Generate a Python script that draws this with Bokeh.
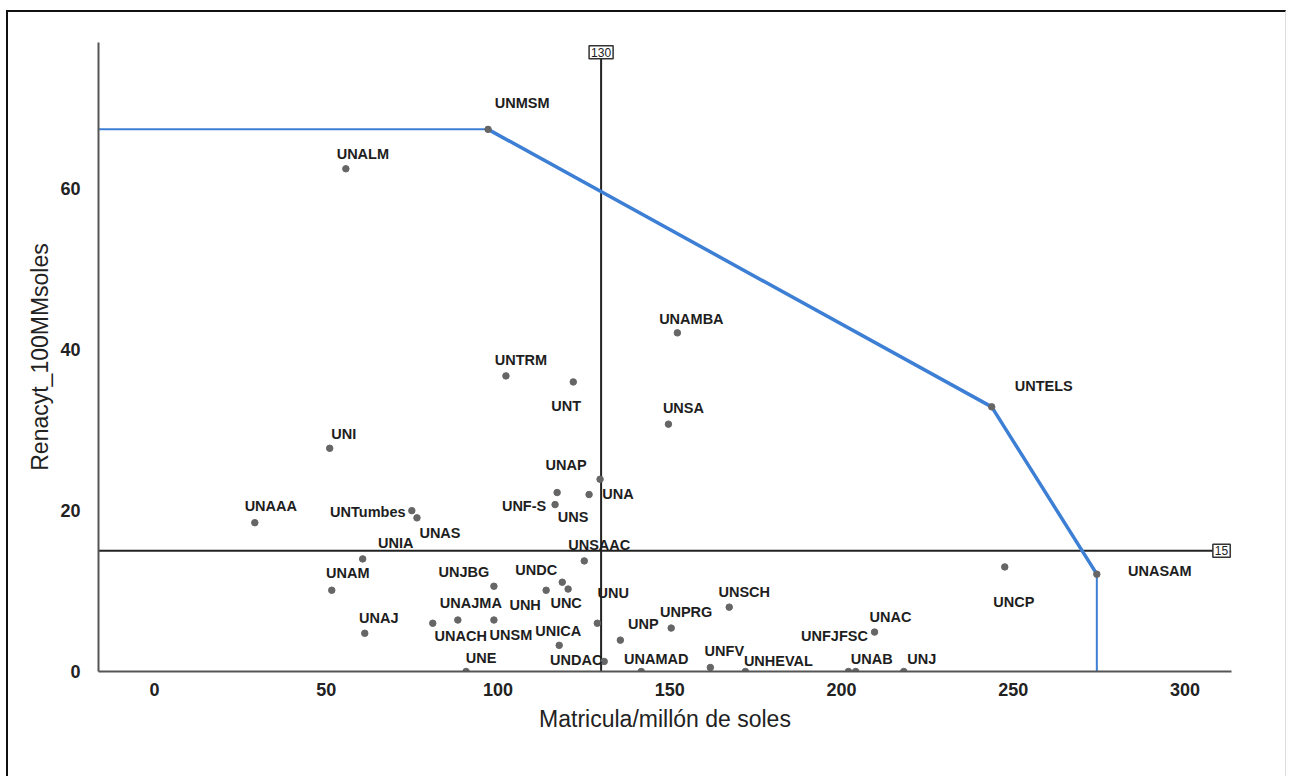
from bokeh.plotting import figure
from bokeh.models import ColumnDataSource, LabelSet, Label, Range1d, FixedTicker
from bokeh.embed import file_html
from bokeh.resources import INLINE
from bokeh.core.properties import value

# ---------------- data ----------------
names = ["UNMSM", "UNALM", "UNAMBA", "UNTRM", "UNT", "UNSA", "UNTELS", "UNI",
         "UNA", "UNS", "UNAP", "UNF-S", "UNAAA", "UNTumbes", "UNAS", "UNIA",
         "UNSAAC", "UNAM", "UNJBG", "UNDC", "UNC", "UNH", "UNAJMA", "UNSM",
         "UNACH", "UNAJ", "UNE", "UNICA", "UNDAC", "UNU", "UNP", "UNPRG",
         "UNSCH", "UNAMAD", "UNFV", "UNHEVAL", "UNFJFSC", "UNAB", "UNJ",
         "UNAC", "UNCP", "UNASAM"]
matricula = [97.1, 55.7, 152.2, 102.3, 121.9, 149.6, 243.7, 51.0,
             129.7, 126.5, 117.2, 116.6, 29.2, 74.9, 76.4, 60.6,
             125.1, 51.6, 98.8, 118.7, 120.4, 114.0, 88.3, 98.8,
             81.0, 61.2, 90.7, 117.8, 130.9, 128.9, 135.6, 150.4,
             167.3, 141.7, 161.8, 172.0, 202.0, 204.1, 218.1,
             209.6, 247.5, 274.3]
renacyt = [67.4, 62.5, 42.1, 36.75, 36.0, 30.75, 32.9, 27.75,
           23.9, 22.0, 22.25, 20.75, 18.5, 20.0, 19.1, 14.0,
           13.75, 10.1, 10.6, 11.1, 10.25, 10.1, 6.4, 6.4,
           6.0, 4.75, 0.0, 3.25, 1.25, 6.0, 3.9, 5.4,
           8.0, 0.0, 0.5, 0.0, 0.0, 0.0, 0.0,
           4.9, 13.0, 12.1]
frontier_names = ["UNMSM", "UNTELS", "UNASAM"]
x_ticks = [0, 50, 100, 150, 200, 250, 300]
y_ticks = [0, 20, 40, 60]
x_ref = 130
y_ref = 15
x_title = "Matricula/millón de soles"
y_title = "Renacyt_100MMsoles"

# ---------------- layout (label offsets in screen pixels, +dx right, +dy down) ----------------
label_dx = [34, 17, 14, 15, -7, 15, 52, 14,
            18, -16, 9, -31, 16, -44, 23, 33,
            15, 16, -30, -26, -2, -21, 13, 17,
            28, 14, 15, -1, -28, 16, 23, 15,
            15, 15, 14, 33, -14, 16, 18,
            16, 9, 63]
label_dy = [-26, -15, -14, -16, 24, -16, -21, -14,
            15, 22, -28, 1, -17, 1, 15, -16,
            -16, -17, -14, -12, 14, 15, -17, 15,
            13, -15, -14, -14, -1, -30, -16, -16,
            -15, -13, -16, -11, -36, -13, -13,
            -15, 35, -3]

X_START, X_END = -16.3, 313.5
Y_START, Y_END = 0, 78.2

p = figure(width=1280, height=766, output_backend="svg", toolbar_location=None,
           x_range=Range1d(X_START, X_END), y_range=Range1d(Y_START, Y_END),
           min_border_left=90, min_border_right=57, min_border_top=30, min_border_bottom=107)
p.styles = {"border-top": "2px solid #111", "border-left": "2px solid #111",
            "border-right": "1px solid #dddddd", "margin-left": "6px", "margin-top": "10px"}
p.outline_line_color = None
p.xgrid.visible = False
p.ygrid.visible = False
p.background_fill_color = "white"
p.border_fill_color = "white"

for ax in (p.xaxis[0], p.yaxis[0]):
    ax.axis_line_color = "#555555"
    ax.axis_line_width = 2
    ax.major_tick_line_color = None
    ax.minor_tick_line_color = None
    ax.major_label_text_font = "Liberation Sans"
    ax.major_label_text_font_style = "bold"
    ax.major_label_text_font_size = "18px"
    ax.major_label_text_color = "#222222"
    ax.axis_label_text_font = "Liberation Sans"
    ax.axis_label_text_font_style = "normal"
    ax.axis_label_text_font_size = "23px"
    ax.axis_label_text_color = "#222222"

p.xaxis[0].ticker = FixedTicker(ticks=x_ticks)
p.yaxis[0].ticker = FixedTicker(ticks=y_ticks)
p.xaxis[0].axis_label = x_title
p.yaxis[0].axis_label = y_title
p.xaxis[0].major_label_standoff = 5
p.yaxis[0].major_label_standoff = 12
p.xaxis[0].axis_label_standoff = 7
p.yaxis[0].axis_label_standoff = 4

# reference lines
p.segment(x0=[x_ref], y0=[Y_START], x1=[x_ref], y1=[77.0], line_color="#222222", line_width=2)
p.segment(x0=[X_START], y0=[y_ref], x1=[310.2], y1=[y_ref], line_color="#222222", line_width=2)

# frontier
idx = [names.index(n) for n in frontier_names]
fx = [matricula[i] for i in idx]
fy = [renacyt[i] for i in idx]
blue = "#3c7fd4"
p.line(x=[X_START, fx[0]], y=[fy[0], fy[0]], line_color=blue, line_width=2)
p.line(x=fx, y=fy, line_color=blue, line_width=3.5)
p.line(x=[fx[-1], fx[-1]], y=[fy[-1], Y_START], line_color=blue, line_width=2)

src = ColumnDataSource(dict(x=matricula, y=renacyt, name=names,
                            dx=label_dx, dy=[-d for d in label_dy]))
p.scatter(x="x", y="y", source=src, size=6.5, fill_color="#666666", line_color="#666666")

labels = LabelSet(x="x", y="y", text="name", source=src, x_offset="dx", y_offset="dy",
                  text_align="center", text_baseline="middle",
                  text_font=value("Liberation Sans"), text_font_style="bold",
                  text_font_size="14.5px", text_color="#1e1e1e")
p.add_layout(labels)

for (lx, ly, t) in [(x_ref, 77.0, str(x_ref)), (310.6, y_ref, str(y_ref))]:
    p.add_layout(Label(x=lx, y=ly, text=t, text_align="center", text_baseline="middle",
                       text_font="Liberation Sans", text_font_size="12px",
                       text_color="#222222", background_fill_color="white",
                       border_line_color="#333333", border_line_width=1.5, padding=2))

open("out.html", "w").write(file_html(p, INLINE))
